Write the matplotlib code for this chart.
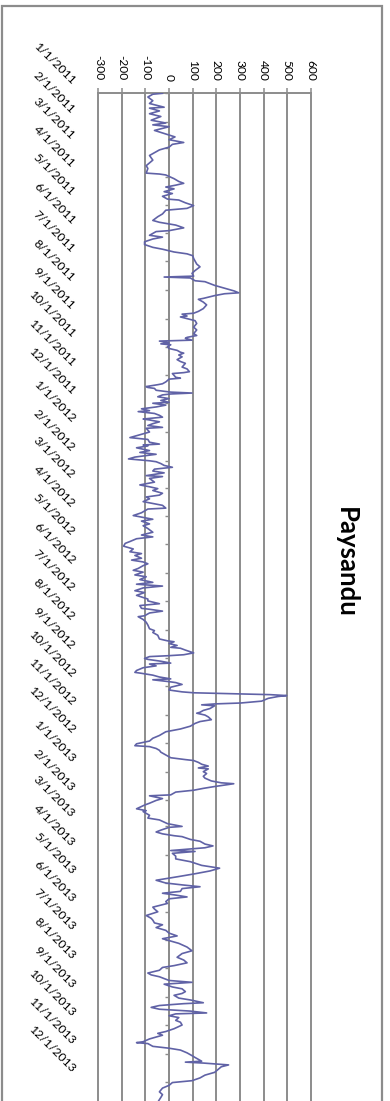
import numpy as np
import pandas as pd
import matplotlib
matplotlib.use("Agg")
import matplotlib.pyplot as plt
import matplotlib.dates as mdates
from matplotlib.transforms import blended_transform_factory, ScaledTranslation
from matplotlib.patches import Rectangle

plt.rcParams['font.family'] = ['Lato', 'DejaVu Sans']

TITLE = "Paysandu"
START = pd.Timestamp("2011-01-01")
AXIS_END = pd.Timestamp("2014-01-01")

# day offsets from 1 Jan 2011 and the value on that day
days_2011 = [0, 1, 4, 8, 11, 15, 16, 19, 22, 25, 29, 32, 34, 36, 40, 45, 47, 50, 53, 55,
             58, 61, 67, 72, 78, 81, 86, 87, 88, 92, 95, 97, 99, 101, 103, 106, 108, 111, 114, 115,
             118, 121, 124, 126, 130, 133, 137, 139, 142, 145, 148, 149, 153, 155, 157, 160, 163, 166, 168, 171,
             173, 175, 178, 184, 187, 191, 194, 197, 198, 199, 202, 203, 207, 210, 213, 215, 216, 218, 221, 222,
             225, 228, 232, 235, 237, 238, 240, 241, 245, 248, 252, 255, 259, 261, 263, 264, 266, 267, 269, 270,
             271, 273, 275, 277, 279, 280, 282, 284, 287, 289, 291, 295, 297, 300, 301, 302, 304, 306, 307, 308,
             311, 313, 314, 316, 317, 318, 320, 322, 323, 324, 325, 327, 329, 331, 333, 334, 336, 338, 340, 342,
             343, 345, 347, 349, 351, 352, 354, 356, 358, 360, 361]
vals_2011 = [-28, -69, -90, -69, -83, -21, -83, -41, -83, -35, -76, -14, -69, 0, -62, 0, 25, 0, 62, 14,
             0, -41, -83, -69, -97, -90, -97, -41, -14, 21, 41, 62, 28, -14, 21, -21, 14, -28, -7, 41,
             69, 104, 76, -14, -28, -48, -69, -41, 28, 62, 0, -55, -83, -28, -69, -104, -104, -69, -28, 21,
             76, 100, 104, 117, 131, 110, 97, 104, -21, 90, 110, 152, 193, 235, 276, 295, 235, 193, 145, 124,
             145, 159, 145, 124, 104, 55, 76, 48, 110, 117, 104, 117, 104, 117, 76, 69, 97, -41, 0, -35,
             7, -7, 0, 34, 48, 62, 41, 55, 34, 48, 69, 55, 76, 86, 62, 14, 21, 28, 48, 0,
             -14, -28, -48, -97, -90, -62, -55, 7, 97, 7, -28, -48, 0, -35, 0, -69, -14, -55, -117, -83,
             -131, -62, -41, -28, -110, -83, -41, -69, -90, -28, -97]

days_2012 = [365, 369, 371, 373, 376, 378, 379, 380, 382, 385, 387, 389, 392, 394, 396, 397, 399, 401, 403, 405,
             407, 409, 412, 413, 415, 419, 422, 424, 426, 428, 431, 433, 435, 437, 440, 444, 447, 448, 452, 455,
             457, 459, 461, 464, 466, 469, 473, 476, 478, 480, 483, 485, 488, 491, 494, 496, 498, 501, 503, 505,
             507, 509, 512, 514, 516, 519, 521, 524, 527, 529, 531, 533, 536, 538, 541, 545, 547, 550, 552, 555,
             556, 558, 560, 563, 564, 567, 570, 573, 577, 579, 581, 584, 588, 590, 591, 593, 595, 597, 598, 600,
             603, 605, 606, 607, 609, 610, 612, 614, 615, 617, 619, 622, 624, 625, 627, 629, 631, 632, 634, 635,
             637, 640, 643, 645, 646, 648, 649, 650, 652, 655, 657, 658, 659, 660, 663, 665, 667, 668, 670, 672,
             675, 677, 679, 682, 685, 688, 692, 695, 698, 701, 703, 704, 706, 708, 710, 713, 716, 718, 719, 721,
             723, 725, 727]
vals_2012 = [-83, -138, -166, -90, -83, -41, -110, -90, -138, -83, -124, -55, -145, -172, -83, -55, -35, -21, 14, -62,
             -69, -21, -97, -28, -83, -62, -124, -83, -48, -69, -28, -41, -97, -83, -110, -28, -14, -90, -117, -152,
             -110, -69, -117, -83, -110, -90, -69, -117, -69, -138, -166, -186, -193, -152, -166, -117, -145, -117, -159, -110,
             -90, -110, -131, -152, -110, -145, -97, -124, -69, -138, -28, -110, -145, -104, -138, -90, -90, -41, -124, -117,
             -83, -28, -83, -104, -131, -110, -97, -90, -83, -62, -69, -48, -41, -7, 21, 0, 34, 7, 48, 69,
             104, 62, 0, -83, -104, -90, -35, 7, -83, -55, -110, -138, -145, -117, -69, -41, 7, -69, 0, 28,
             55, 7, 0, 55, 104, 428, 498, 462, 420, 392, 304, 193, 138, 193, 173, 145, 131, 117, 152, 166,
             179, 131, 110, 90, 48, -14, -41, -69, -83, -138, -145, -83, -55, -41, -35, -14, 7, 69, 104, 124,
             138, 166, 124]

days_2013 = [728, 731, 733, 736, 738, 741, 743, 744, 746, 747, 749, 751, 753, 756, 757, 760, 762, 765, 767, 771,
             773, 774, 778, 781, 783, 787, 790, 791, 794, 796, 798, 800, 801, 804, 806, 809, 811, 813, 816, 817,
             819, 822, 825, 828, 832, 835, 838, 841, 844, 848, 851, 853, 855, 857, 860, 862, 864, 866, 868, 871,
             873, 877, 879, 882, 886, 889, 891, 894, 896, 899, 902, 905, 908, 911, 913, 916, 920, 924, 927, 931,
             934, 937, 940, 942, 945, 948, 950, 952, 956, 958, 960, 963, 965, 968, 970, 972, 975, 977, 980, 981,
             983, 985, 987, 989, 991, 992, 994, 996, 999, 1001, 1004, 1008, 1011, 1013, 1015, 1019, 1022, 1023, 1024, 1027,
             1029, 1031, 1034, 1037, 1039, 1042, 1043, 1044, 1045, 1047, 1049, 1052, 1055, 1058, 1061, 1064, 1066, 1069, 1072, 1076,
             1079, 1082, 1086, 1090]
vals_2013 = [166, 145, 159, 145, 152, 179, 221, 274, 221, 193, 145, 104, 28, 7, -83, -28, -55, -83, -104, -138,
             -97, -110, -83, -90, -41, -7, 55, 0, -35, -55, -28, 21, 55, 90, 131, 152, 186, 152, 7, 110,
             14, 28, 28, 90, 138, 214, 173, 110, 41, -55, -14, 55, 131, 55, 48, -28, 28, 76, 0, -14,
             -7, -69, -62, -48, -97, -76, -69, -62, -28, -55, -14, 0, 34, -28, 0, 41, 76, 97, 55, 34,
             62, 76, 21, -28, -41, -90, -76, -41, 0, 97, -21, 14, 55, 69, 55, 21, 41, 90, 145, 62,
             -41, -76, -41, 90, 159, 28, 0, 41, 28, 48, 55, 21, -14, -48, -28, -83, -110, -138, -90, -69,
             0, 48, 76, 97, 110, 131, 138, 69, 145, 252, 221, 207, 193, 152, 131, 97, 14, 0, -28, -41,
             -28, -35, -45, -30]

value_ticks = [-300, -200, -100, 0, 100, 200, 300, 400, 500, 600]
month_starts = pd.date_range("2011-01-01", "2013-12-01", freq="MS")
month_labels = [f"{d.month}/{d.day}/{d.year}" for d in month_starts]

LINE = "#6062A6"
GRID = "#8C8C8C"
TEXT = "#000000"

days = np.array(days_2011 + days_2012 + days_2013)
vals = np.array(vals_2011 + vals_2012 + vals_2013)
dates = START + pd.to_timedelta(days, unit="D")
y = mdates.date2num(dates.to_pydatetime())
tick_y = mdates.date2num(month_starts.to_pydatetime())

W, H = 390, 1101
fig = plt.figure(figsize=(W / 100, H / 100), dpi=100)
fig.patch.set_facecolor("white")

# plot area in pixels (chart is laid out turned a quarter clockwise)
left_px, right_px, top_px = 98.3, 310.7, 93.3
px_per_day = 0.928
n_days = (AXIS_END - START).days
bottom_px = top_px + n_days * px_per_day
ax = fig.add_axes([left_px / W, 1 - bottom_px / H,
                   (right_px - left_px) / W, (bottom_px - top_px) / H])
ax.set_facecolor("none")

ax.plot(vals, y, color=LINE, lw=1.2, solid_joinstyle="round", zorder=3)

ax.set_xlim(-300, 600)
ax.set_ylim(mdates.date2num(AXIS_END.to_pydatetime()), mdates.date2num(START.to_pydatetime()))

# value axis along the top
ax.set_xticks(value_ticks)
ax.set_xticklabels([str(v) for v in value_ticks])
ax.xaxis.set_ticks_position("top")
ax.tick_params(axis="x", direction="out", length=3.6, width=1.1, color=GRID,
               pad=5.5, labelsize=8.6, labelrotation=-90, labelcolor=TEXT)
ax.xaxis.grid(True, color=GRID, lw=1.4)
for gl in ax.get_xgridlines():
    gl.set_clip_on(False)

# date axis: line through zero with monthly ticks
ax.spines["left"].set_visible(False)
ax.spines["bottom"].set_visible(False)
ax.spines["top"].set_color(GRID)
ax.spines["top"].set_linewidth(1.4)
ax.spines["right"].set_position(("data", 0))
ax.spines["right"].set_color(GRID)
ax.spines["right"].set_linewidth(1.4)
ax.yaxis.set_ticks_position("right")
ax.set_yticks(tick_y)
ax.tick_params(axis="y", direction="in", length=2.6, width=1.0, color=GRID,
               labelright=False, labelleft=False)

# date labels sit beside the low end of the value axis
lab_tr = blended_transform_factory(ax.transAxes, ax.transData) + \
    ScaledTranslation(-25 / 100, 11 / 100, fig.dpi_scale_trans)
for ty, lab in zip(tick_y, month_labels):
    ax.text(0, ty, lab, transform=lab_tr, rotation=-45, rotation_mode="anchor",
            ha="right", va="center", fontsize=8.8, color=TEXT, clip_on=False)

fig.text(346 / W, 1 - 562 / H, TITLE, rotation=-90, ha="center", va="center",
         fontsize=18.5, fontweight="bold", color=TEXT)

# chart border
fig.patches.append(Rectangle((1.5 / W, -0.05), (381.7 - 1.5) / W, (1 - 6 / H) + 0.05,
                             transform=fig.transFigure, fill=False, ec=GRID, lw=1.6))

fig.savefig("out.png", dpi=100)
